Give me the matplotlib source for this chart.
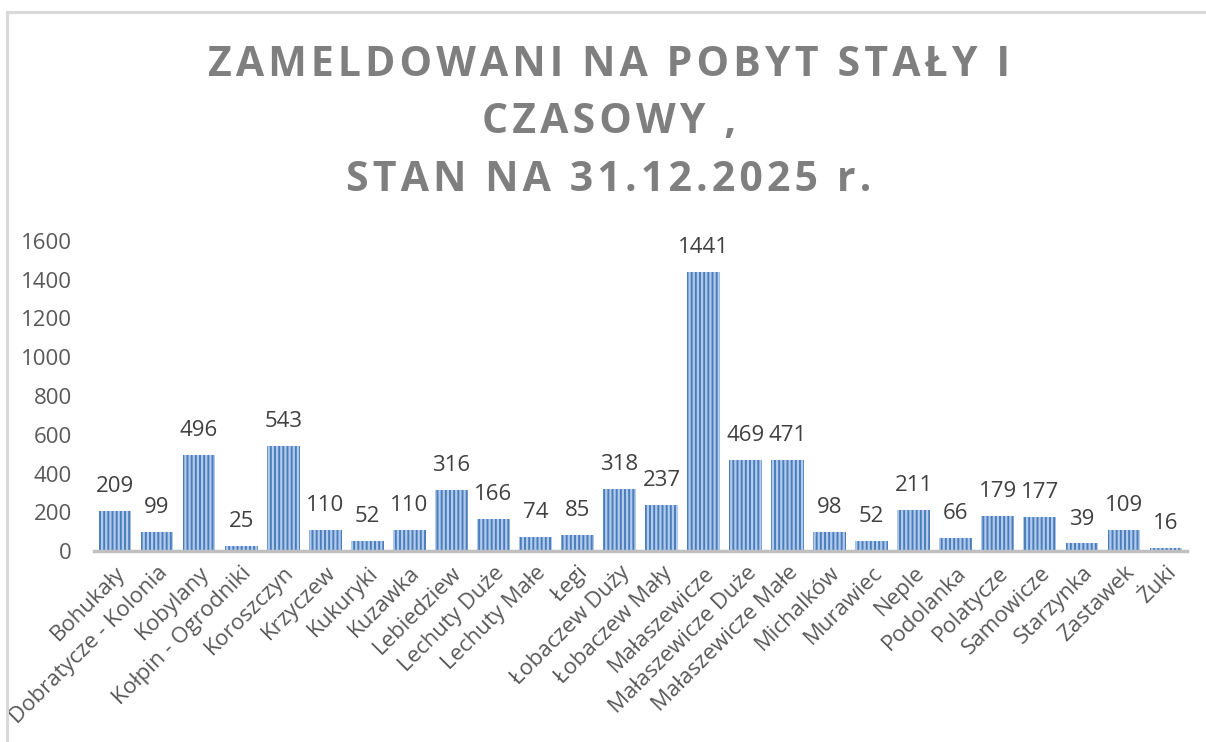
import matplotlib
matplotlib.use("Agg")
import matplotlib.pyplot as plt
from matplotlib.patches import Rectangle

categories = ["Bohukały", "Dobratycze - Kolonia", "Kobylany", "Kołpin - Ogrodniki",
              "Koroszczyn", "Krzyczew", "Kukuryki", "Kuzawka", "Lebiedziew",
              "Lechuty Duże", "Lechuty Małe", "Łegi", "Łobaczew Duży", "Łobaczew Mały",
              "Małaszewicze", "Małaszewicze Duże", "Małaszewicze Małe", "Michalków",
              "Murawiec", "Neple", "Podolanka", "Polatycze", "Samowicze", "Starzynka",
              "Zastawek", "Żuki"]
values = [209, 99, 496, 25, 543, 110, 52, 110, 316, 166, 74, 85, 318, 237, 1441,
          469, 471, 98, 52, 211, 66, 179, 177, 39, 109, 16]
yticks = [0, 200, 400, 600, 800, 1000, 1200, 1400, 1600]
title_lines = ["ZAMELDOWANI NA POBYT STAŁY I", "CZASOWY ,", "STAN NA 31.12.2025 r."]

plt.rcParams['font.family'] = ['Open Sans', 'DejaVu Sans']
plt.rcParams['hatch.linewidth'] = 1.6

fig = plt.figure(figsize=(12.06, 7.42), dpi=100)
fig.patches.append(Rectangle((7/1206, -0.1), 1.2, 1 - 12/742 + 0.1, transform=fig.transFigure,
                             fill=False, edgecolor='#d9d9d9', linewidth=2.2, zorder=0))

ax = fig.add_axes([94/1206, 1 - 551/742, 1093/1206, 310/742])
x = list(range(len(categories)))
bars = ax.bar(x, values, width=0.78, color='#4a7dbd', edgecolor='#b3cbeb',
              linewidth=0, hatch='||||', zorder=2)
for xi, v in zip(x, values):
    ax.annotate(str(v), (xi, v), xytext=(0, 10), textcoords='offset points',
                ha='center', va='bottom', fontsize=16, color='#404040')

ax.set_xlim(-0.5, len(categories) - 0.5)
ax.set_ylim(0, 1600)
ax.set_yticks(yticks)
ax.set_yticklabels([str(t) for t in yticks], fontsize=16, color='#595959')
ax.set_xticks(x)
ax.set_xticklabels(categories, rotation=45, ha='right', rotation_mode='anchor',
                   fontsize=16, color='#595959')
ax.tick_params(axis='both', length=0)
ax.tick_params(axis='y', pad=16)
ax.tick_params(axis='x', pad=8)
for s in ['top', 'right', 'left']:
    ax.spines[s].set_visible(False)
ax.spines['bottom'].set_color('#bfbfbf')
ax.spines['bottom'].set_linewidth(2.5)
ax.spines['bottom'].set_zorder(3)

sp = '\u200a'
title = "\n".join(sp.join(line) for line in title_lines)
fig.text(0.505, 1 - 123/742, title, ha='center', va='center', fontsize=29.5,
         fontweight='bold', color='#7f7f7f', linespacing=1.52)

fig.savefig("out.png", dpi=100)
